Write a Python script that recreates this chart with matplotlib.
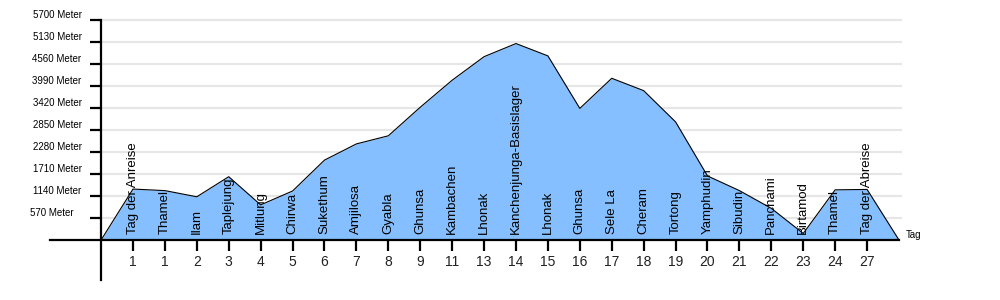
import numpy as np
import matplotlib
matplotlib.use("Agg")
import matplotlib.pyplot as plt
from matplotlib.transforms import ScaledTranslation

plt.rcParams['font.family'] = ['Liberation Sans', 'DejaVu Sans']

# data
tage = ["1", "1", "2", "3", "4", "5", "6", "7", "8", "9", "11", "13", "14",
        "15", "16", "17", "18", "19", "20", "21", "22", "23", "24", "27"]
orte = ["Tag der Anreise", "Thamel", "Ilam", "Taplejung", "Mitlung", "Chirwa",
        "Sukethum", "Amjilosa", "Gyabla", "Ghunsa", "Kambachen", "Lhonak",
        "Kanchenjunga-Basislager", "Lhonak", "Ghunsa", "Sele La", "Cheram",
        "Tortong", "Yamphudin", "Sibudin", "Panchami", "Birtamod", "Thamel",
        "Tag der Abreise"]
hoehe = [1320, 1280, 1120, 1640, 910, 1270, 2070, 2490, 2700, 3440, 4140,
         4750, 5090, 4770, 3410, 4190, 3870, 3060, 1660, 1280, 820, 170,
         1300, 1310]
y_ticks = [570, 1140, 1710, 2280, 2850, 3420, 3990, 4560, 5130, 5700]

n = len(hoehe)
x = np.arange(1, n + 1)
xs = np.concatenate([[0], x, [n + 1]])
ys = np.concatenate([[0], hoehe, [0]])

fig = plt.figure(figsize=(10, 3), dpi=100)
# axes from pixel x 50..899, y 20..280
ax = fig.add_axes([0.050, 20 / 300, 0.849, 260 / 300])
ax.set_xlim(-1.6, n + 1)
ax.set_ylim(-1036, 5700)

for yv in y_ticks:
    ax.plot([0, n + 1.05], [yv, yv], color='#e6e6e6', lw=1.5, zorder=0, clip_on=False)

ax.fill_between(xs, ys, 0, color='#85BFFF', lw=0, zorder=1)
ax.plot(xs, ys, color='black', lw=0.8, zorder=2)

for xi, name in zip(x, orte):
    ax.annotate(name, xy=(xi, 0), xytext=(0, 4), textcoords='offset points',
                rotation=90, ha='center', va='bottom', fontsize=9.5, zorder=3)

for side in ['top', 'right']:
    ax.spines[side].set_visible(False)
ax.spines['left'].set_position(('data', 0))
ax.spines['bottom'].set_position(('data', 0))
ax.spines['left'].set_linewidth(1.6)
ax.spines['bottom'].set_linewidth(1.6)
ax.spines['left'].set_zorder(4)
ax.spines['bottom'].set_zorder(4)

ax.set_xticks(x)
ax.set_xticklabels(tage, fontsize=10, color='#222222')
ax.tick_params(axis='x', direction='out', length=8, width=1.6, pad=3)

ax.set_yticks(y_ticks)
ax.set_yticklabels([f"{v} Meter" for v in y_ticks], fontsize=7)
ax.tick_params(axis='y', direction='out', length=8, width=1.6, pad=6)
shift = ScaledTranslation(0, 4 / 72, fig.dpi_scale_trans)
for lab in ax.get_yticklabels():
    lab.set_transform(lab.get_transform() + shift)
# the lowest label sits a bit further left in the original
low = ax.get_yticklabels()[0]
low.set_transform(low.get_transform() + ScaledTranslation(-6 / 72, 0, fig.dpi_scale_trans))

ax.text(n + 1.2, 0, "Tag", fontsize=7, ha='left', va='bottom')

fig.savefig("out.png", dpi=100)
